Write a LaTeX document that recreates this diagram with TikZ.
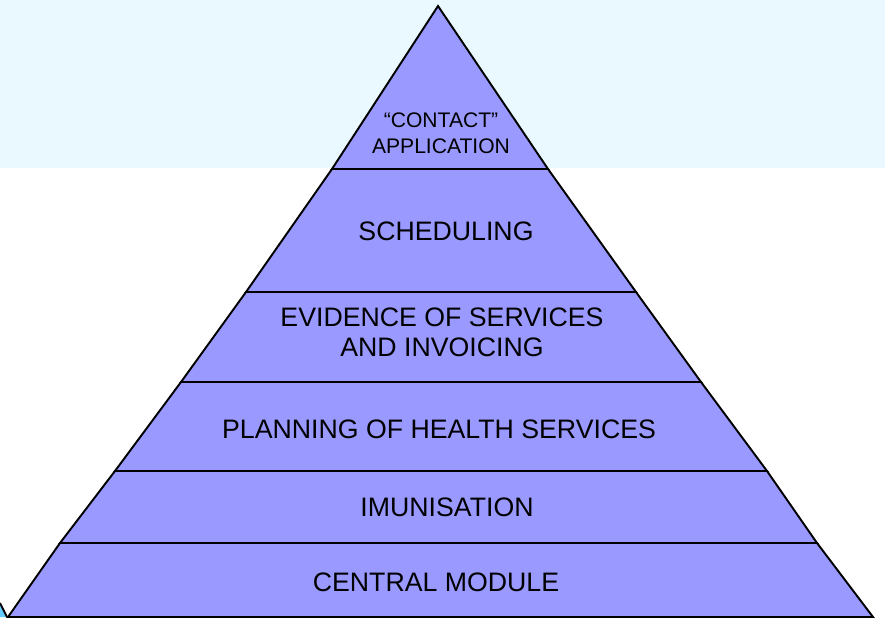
\documentclass[tikz,border=0pt]{standalone}
\usepackage{fontspec}
\setmainfont{Liberation Sans}
\usetikzlibrary{calc}
\definecolor{bandblue}{RGB}{234,248,255}
\definecolor{layerblue}{RGB}{153,153,255}
\definecolor{cornercyan}{RGB}{102,204,255}

\begin{document}
\begin{tikzpicture}[x=0.02cm, y=-0.02cm,
    layer/.style={fill=layerblue, draw=black, line width=1.1pt, line join=miter},
    lbl/.style={align=center, inner sep=0pt, font=\fontsize{15.2}{17}\selectfont},
    smalllbl/.style={align=center, inner sep=0pt, font=\fontsize{12}{14.8}\selectfont}]
    \useasboundingbox (0,0) rectangle (885,620);
    \fill[bandblue] (0,0) rectangle (885,168);

    % corners of the layers
    \coordinate (top) at (438,6);
    \coordinate (l1) at (332,169); \coordinate (r1) at (548,169);
    \coordinate (l2) at (246,292); \coordinate (r2) at (636,292);
    \coordinate (l3) at (181,382); \coordinate (r3) at (701,382);
    \coordinate (l4) at (115,471); \coordinate (r4) at (767,471);
    \coordinate (l5) at (60,543);  \coordinate (r5) at (817,543);
    \coordinate (l6) at (8,617);   \coordinate (r6) at (873,617);

    % bit of a shape cut off at the left
    \fill[cornercyan] (0,603) -- (7,617) -- (0,617) -- cycle;
    \draw[line width=1.1pt] (0,603) -- (7,617);

    \filldraw[layer] (top) -- (r1) -- (l1) -- cycle;
    \filldraw[layer] (l1) -- (r1) -- (r2) -- (l2) -- cycle;
    \filldraw[layer] (l2) -- (r2) -- (r3) -- (l3) -- cycle;
    \filldraw[layer] (l3) -- (r3) -- (r4) -- (l4) -- cycle;
    \filldraw[layer] (l4) -- (r4) -- (r5) -- (l5) -- cycle;
    \filldraw[layer] (l5) -- (r5) -- (r6) -- (l6) -- cycle;

    \node[smalllbl] (contact) at (441,133) {“CONTACT”\\APPLICATION};
    \node[lbl] (sched) at (446,231) {SCHEDULING};
    \node[lbl] (evid) at (442,332) {EVIDENCE OF SERVICES\\AND INVOICING};
    \node[lbl] (plan) at (439,429) {PLANNING OF HEALTH SERVICES};
    \node[lbl] (imun) at (447,507) {IMUNISATION};
    \node[lbl] (central) at (436,582) {CENTRAL MODULE};
\end{tikzpicture}
\end{document}
